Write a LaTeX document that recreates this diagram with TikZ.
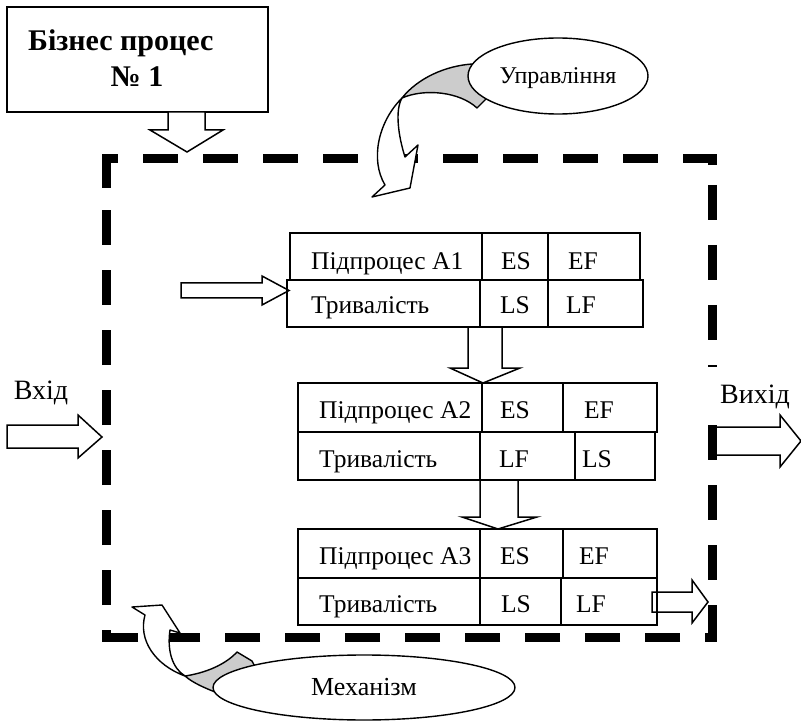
\documentclass[tikz,border=0pt]{standalone}
\usepackage{fontspec}
\setmainfont{Liberation Serif}
\usetikzlibrary{shapes.geometric}
\begin{document}
\begin{tikzpicture}[x=1pt,y=-1pt,line join=miter,
  blk/.style={draw=black, fill=white, line width=1.5pt},
  cur/.style={draw=black, fill=white, line width=1.4pt, line join=round},
  gry/.style={draw=black, fill=black!20, line width=1.4pt, line join=round},
  tbl/.style={draw=black, line width=1.8pt},
  frm/.style={line width=9pt, line cap=butt},
  frmd/.style={frm, dash pattern=on 35pt off 25pt},
  tx/.style={font=\fontsize{25.5}{30}\selectfont, inner sep=0pt},
  io/.style={font=\fontsize{28}{32}\selectfont, inner sep=0pt},
  ttl/.style={font=\fontsize{30}{34}\selectfont\bfseries, inner sep=0pt},
  ell/.style={ellipse, draw=black, fill=white, line width=1.4pt, inner sep=0pt,
    text height=16pt, text depth=0pt}
]
\useasboundingbox (0,0) rectangle (801,722);

% ---- title box ----
\node[draw=black, line width=1.6pt, minimum width=261pt, minimum height=105pt, inner sep=0pt] (bp) at (137.5,59.5) {};
\node[ttl, anchor=base west] (bp1) at (28,51) {Бізнес процес};
\node[ttl, anchor=base] (bp2) at (137,87) {№ 1};

% ---- straight block arrows ----
\path[blk] (168,112) -- (205,112) -- (205,130) -- (223,130) -- (187,152) -- (150,130) -- (168,130) -- cycle;
\path[blk] (7,425) -- (78,425) -- (78,415) -- (102,437) -- (78,458) -- (78,448) -- (7,448) -- cycle;
\path[blk] (714,427) -- (780,427) -- (780,415) -- (801,441) -- (780,467) -- (780,455) -- (714,455) -- cycle;
\path[blk] (181,283) -- (262,283) -- (262,276) -- (289,290.5) -- (262,305) -- (262,298) -- (181,298) -- cycle;
\path[blk] (468,327) -- (502,327) -- (502,368) -- (520,368) -- (483,383) -- (450,368) -- (468,368) -- cycle;
\path[blk] (480,480) -- (518,480) -- (518,517) -- (537,517) -- (498,529) -- (462,517) -- (480,517) -- cycle;
\path[blk] (652,592) -- (692,592) -- (692,580) -- (708,602) -- (692,623) -- (692,612) -- (652,612) -- cycle;

% ---- table A1 ----
\draw[tbl] (290,233) rectangle (640,280);
\draw[tbl] (482,233) -- (482,280) (548,233) -- (548,280);
\draw[tbl] (287,280) rectangle (643,327);
\draw[tbl] (480,280) -- (480,327) (548,280) -- (548,327);
\node[tx, anchor=base west] (a1n) at (311,270) {Підпроцес А1};
\node[tx, anchor=base] (a1es) at (516,270) {ES};
\node[tx, anchor=base] (a1ef) at (583,270) {EF};
\node[tx, anchor=base west] (a1d) at (311,313) {Тривалість};
\node[tx, anchor=base] (a1ls) at (515,313) {LS};
\node[tx, anchor=base] (a1lf) at (581,313) {LF};

% ---- table A2 ----
\draw[tbl] (298,383) rectangle (657,432);
\draw[tbl] (482,383) -- (482,432) (563,383) -- (563,432);
\draw[tbl] (298,432) rectangle (655,480);
\draw[tbl] (480,432) -- (480,480) (575,432) -- (575,480);
\node[tx, anchor=base west] (a2n) at (319,418) {Підпроцес А2};
\node[tx, anchor=base] (a2es) at (515,418) {ES};
\node[tx, anchor=base] (a2ef) at (599,418) {EF};
\node[tx, anchor=base west] (a2d) at (319,467) {Тривалість};
\node[tx, anchor=base] (a2lf) at (514,467) {LF};
\node[tx, anchor=base] (a2ls) at (597,467) {LS};

% ---- table A3 ----
\draw[tbl] (298,529) rectangle (657,578);
\draw[tbl] (480,529) -- (480,578) (563,529) -- (563,578);
\draw[tbl] (298,578) rectangle (657,625);
\draw[tbl] (480,578) -- (480,625) (561,578) -- (561,625);
\node[tx, anchor=base west] (a3n) at (319,564) {Підпроцес А3};
\node[tx, anchor=base] (a3es) at (515,564) {ES};
\node[tx, anchor=base] (a3ef) at (594,564) {EF};
\node[tx, anchor=base west] (a3d) at (319,612) {Тривалість};
\node[tx, anchor=base] (a3ls) at (516,612) {LS};
\node[tx, anchor=base] (a3lf) at (591,612) {LF};

% ---- dashed frame ----
\draw[frm] (106,188) -- (106,159) -- (118,159);
\draw[frmd] (143,159) -- (658,159);
\draw[frm] (683,159) -- (712,159) -- (712,165);
\draw[frmd] (712,185) -- (712,580);
\draw[frm] (712,605) -- (712,637) -- (705,637);
\draw[frmd] (680,637) -- (165,637);
\draw[frm] (138,637) -- (106,637) -- (106,630);
\draw[frmd] (106,605) -- (106,210);

% ---- curved arrow: control ----
\path[gry] (472,64) .. controls (445,66) and (418,78) .. (402,98)
  .. controls (425,88) and (460,92) .. (477,108) -- (488,97) -- (495,85) -- cycle;
\path[cur] (402,98) .. controls (378,122) and (370,160) .. (385,185) -- (372,197) -- (410,188)
  -- (418,145) -- (405,157) .. controls (398,135) and (395,110) .. (402,98) -- cycle;

% ---- curved arrow: mechanism ----
\path[gry] (185,676) .. controls (205,673) and (225,665) .. (237,652) -- (252,661) -- (262,680)
  -- (215,692) .. controls (205,688) and (193,683) .. (185,676) -- cycle;
\path[cur] (185,676) .. controls (155,665) and (138,640) .. (145,615) -- (132,607) -- (162,605)
  -- (180,633) -- (170,630) .. controls (167,650) and (172,668) .. (185,676) -- cycle;

% ---- ellipses ----
\node[ell, font=\fontsize{24}{28}\selectfont, minimum width=180pt, minimum height=76pt] (upr) at (558,76) {Управління};
\node[ell, font=\fontsize{26}{30}\selectfont, minimum width=302pt, minimum height=65pt] (mech) at (364,687.5) {Механізм};

% ---- input / output labels ----
\node[io, anchor=base] (vhid) at (41,399) {Вхід};
\node[io, fill=white, anchor=north, minimum width=94pt, text height=37pt, text depth=8pt] (vyhid) at (755,366.5) {Вихід};
\end{tikzpicture}
\end{document}
